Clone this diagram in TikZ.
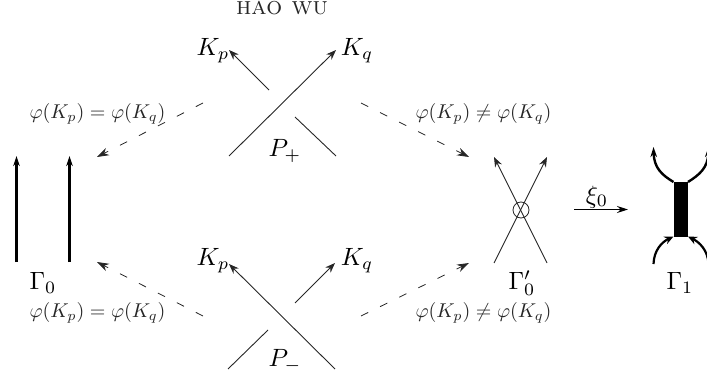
\documentclass[tikz,border=0pt]{standalone}
\usetikzlibrary{arrows.meta}
\tikzset{
  thinstrand/.style={line width=0.9pt,draw=black!85},
  arrowstrand/.style={thinstrand,-{Stealth[length=10pt,width=7.5pt]}},
  dashedarrow/.style={line width=0.8pt,draw=black!85,dash pattern=on 8pt off 13.3pt,-{Stealth[length=12pt,width=8pt]}},
  thickstrand/.style={line width=2.4pt,-{Stealth[length=10pt,width=6.5pt]}},
  thickend/.style={line width=2.2pt,-{Stealth[length=9pt,width=8pt]}},
  mathlabel/.style={scale=2.5,inner sep=0pt},
  smalllabel/.style={scale=2,inner sep=0pt,text=black!85},
}
\begin{document}
\begin{tikzpicture}[x=1pt,y=-1pt]
\useasboundingbox (0,0) rectangle (707,377);
% header
\node[scale=2.5,inner sep=0pt,text=black!85] (hdr) at (282,8) {\textsc{hao wu}};
% P+
\coordinate (a1) at (269,90); \coordinate (a2) at (229,50);
\coordinate (b1) at (229,156); \coordinate (b2) at (336,50);
\coordinate (c1) at (295,117); \coordinate (c2) at (336,156);
\draw[arrowstrand] (a1) -- (a2);
\draw[arrowstrand] (b1) -- (b2);
\draw[thinstrand] (c1) -- (c2);
\node[mathlabel] (kp1) at (213,51) {$K_p$};
\node[mathlabel] (kq1) at (357,51) {$K_q$};
\node[mathlabel] (pplus) at (285,151) {$P_+$};
% P-
\coordinate (d1) at (335,369); \coordinate (d2) at (229,264);
\coordinate (e1) at (295,303); \coordinate (e2) at (335,263);
\coordinate (f1) at (268,330); \coordinate (f2) at (228,369);
\draw[arrowstrand] (d1) -- (d2);
\draw[arrowstrand] (e1) -- (e2);
\draw[thinstrand] (f1) -- (f2);
\node[mathlabel] (kp2) at (213,261) {$K_p$};
\node[mathlabel] (kq2) at (357,261) {$K_q$};
\node[mathlabel] (pminus) at (285,361) {$P_-$};
% Gamma 0
\coordinate (g1) at (16.5,262); \coordinate (g2) at (16.5,156);
\coordinate (h1) at (69.5,262); \coordinate (h2) at (69.5,156);
\draw[thickstrand] (g1) -- (g2);
\draw[thickstrand] (h1) -- (h2);
\node[mathlabel] (G0) at (43,283) {$\Gamma_0$};
% Gamma 0'
\coordinate (x1) at (494,263); \coordinate (x2) at (547,157);
\coordinate (y1) at (547,263); \coordinate (y2) at (494,157);
\draw[arrowstrand] (x1) -- (x2);
\draw[arrowstrand] (y1) -- (y2);
\node[draw=black!85,line width=0.8pt,circle,minimum size=16pt,inner sep=0pt] (vc) at (521,210) {};
\node[mathlabel] (G0p) at (522,283) {$\Gamma_0'$};
% dashed
\coordinate (t1) at (203,103); \coordinate (t2) at (97,157);
\coordinate (t3) at (361,103); \coordinate (t4) at (469,157);
\coordinate (t5) at (203,316); \coordinate (t6) at (97,262);
\coordinate (t7) at (361,316); \coordinate (t8) at (469,263);
\draw[dashedarrow] (t1) -- (t2);
\draw[dashedarrow] (t3) -- (t4);
\draw[dashedarrow] (t5) -- (t6);
\draw[dashedarrow] (t7) -- (t8);
\node[smalllabel] (l1) at (97.5,114) {$\varphi(K_p)=\varphi(K_q)$};
\node[smalllabel] (l2) at (483.5,114) {$\varphi(K_p)\neq\varphi(K_q)$};
\node[smalllabel] (l3) at (97.5,313) {$\varphi(K_p)=\varphi(K_q)$};
\node[smalllabel] (l4) at (483.5,313) {$\varphi(K_p)\neq\varphi(K_q)$};
% xi
\coordinate (s1) at (574,209.5); \coordinate (s2) at (628,209.5);
\draw[line width=1.1pt,-{Stealth[length=11pt,width=7pt]}] (s1) -- (s2);
\node[mathlabel] (xi) at (597,197) {$\xi_0$};
% Gamma 1
\fill (673.5,182) rectangle (688,236.5);
\coordinate (r1) at (673.5,182); \coordinate (r2) at (688,182);
\coordinate (r3) at (673.5,236.5); \coordinate (r4) at (688,236.5);
\coordinate (u1) at (653.5,147); \coordinate (u2) at (708.5,147);
\coordinate (v1) at (653.5,264); \coordinate (v2) at (708.5,264);
\draw[thickstrand] (r1) .. controls (662,175) and (654,168) .. (u1);
\draw[thickstrand] (r2) .. controls (699,175) and (708,168) .. (u2);
\draw[thickend] (v1) .. controls (654,250) and (662,242) .. (r3);
\draw[thickend] (v2) .. controls (708,250) and (699,242) .. (r4);
\node[mathlabel] (G1) at (680,283) {$\Gamma_1$};
\end{tikzpicture}
\end{document}
